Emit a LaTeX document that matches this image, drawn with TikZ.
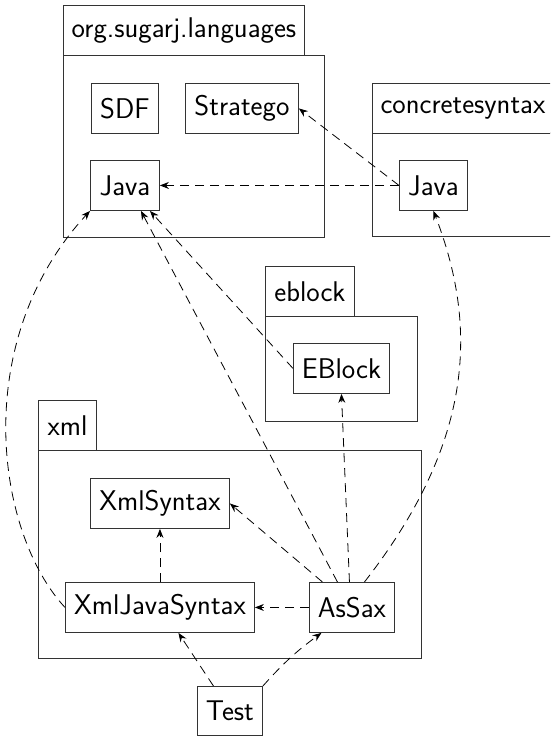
\documentclass[tikz,border=0pt]{standalone}
\usepackage{fontspec}
\usetikzlibrary{arrows.meta}
\begin{document}
\begin{tikzpicture}[x=1pt,y=1pt,
  box/.style={draw=black!80, line width=0.9pt, inner sep=0pt, minimum height=50pt,
    font=\sffamily\fontsize{28.5}{34}\selectfont, fill=white},
  pkg/.style={draw=black!80, line width=0.9pt, inner sep=0pt, anchor=north west},
  dep/.style={line width=0.8pt, dash pattern=on 9pt off 6pt,
    -{Stealth[length=9pt,width=7pt,inset=3pt]}}]
\useasboundingbox (0,0) rectangle (550,-736);
\clip (0,0) rectangle (550,-736);
% packages
\node[pkg, minimum width=261pt, minimum height=182pt] (orgbody) at (63,-55) {};
\node[box, anchor=north west, minimum width=241pt] (orgtab) at (63,-5) {org.sugarj.languages};
\node[pkg, minimum width=200pt, minimum height=104pt] (csbody) at (372,-132) {};
\node[box, anchor=north west, minimum width=181pt] (cstab) at (372,-83) {concretesyntax};
\node[pkg, minimum width=152pt, minimum height=105pt] (ebbody) at (265,-316) {};
\node[box, anchor=north west, minimum width=89pt] (ebtab) at (265,-266) {eblock};
\node[pkg, minimum width=383pt, minimum height=208pt] (xmlbody) at (38,-450) {};
\node[box, anchor=north west, minimum width=58pt] (xmltab) at (38,-400) {xml};
% classes
\node[box, anchor=north west, minimum width=67pt] (sdf) at (91,-83) {SDF};
\node[box, anchor=north west, minimum width=113pt] (stratego) at (185,-83) {Stratego};
\node[box, anchor=north west, minimum width=69pt] (java1) at (90,-160) {Java};
\node[box, anchor=north west, minimum width=68pt] (java2) at (399,-160) {Java};
\node[box, anchor=north west, minimum width=96pt] (eblock) at (293,-343) {EBlock};
\node[box, anchor=north west, minimum width=139pt] (xmlsyntax) at (90,-478) {XmlSyntax};
\node[box, anchor=north west, minimum width=189pt] (xmljava) at (65,-582) {XmlJavaSyntax};
\node[box, anchor=north west, minimum width=85pt] (assax) at (309,-582) {AsSax};
\node[box, anchor=north west, minimum width=65pt, minimum height=49pt] (test) at (197,-686) {Test};
% dependencies
\draw[dep] (java2.west) -- (java1.east);
\draw[dep] (java2.west) -- (stratego.east);
\draw[dep] (eblock.west) -- ([xshift=25pt]java1.south);
\draw[dep] ([xshift=-14.5pt]assax.north) -- ([xshift=16pt]java1.south);
\draw[dep] ([xshift=-2.5pt]assax.north) -- (eblock.south);
\draw[dep] ([xshift=-29.5pt]assax.north) -- (xmlsyntax.east);
\draw[dep] ([xshift=12.5pt]assax.north) .. controls (476,-439) and (477,-324) .. (java2.south);
\draw[dep] (xmljava.west) .. controls (-4,-533) and (-31,-342) .. (java1.south west);
\draw[dep] (xmljava.north) -- (xmlsyntax.south);
\draw[dep] (assax.west) -- (xmljava.east);
\draw[dep] ([xshift=-16.5pt]test.north) -- ([xshift=18.5pt]xmljava.south);
\draw[dep] (test.north east) to[bend left=6] ([xshift=-30.5pt]assax.south);
\end{tikzpicture}
\end{document}
